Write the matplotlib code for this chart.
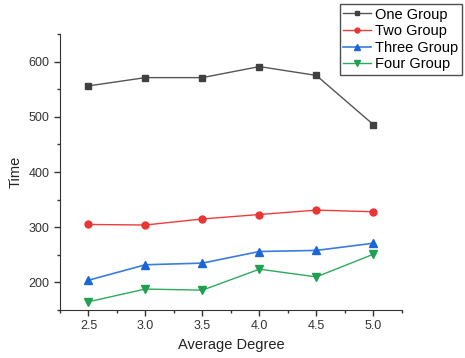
import matplotlib
matplotlib.use("Agg")
import matplotlib.pyplot as plt
from matplotlib.ticker import MultipleLocator

plt.rcParams['font.family'] = ['Liberation Sans', 'DejaVu Sans']

# Daten
degree = [2.5, 3.0, 3.5, 4.0, 4.5, 5.0]
one_group = [556, 571, 571, 591, 575, 486]
two_group = [305, 304, 315, 323, 331, 328]
three_group = [204, 232, 235, 256, 258, 271]
four_group = [165, 188, 186, 224, 210, 251]

fig = plt.figure(figsize=(4.65, 3.58), dpi=100)
ax = fig.add_axes([0.129, 0.134, 0.735, 0.771])

ax.plot(degree, one_group, color='#555555', marker='s', markersize=5,
        markerfacecolor='#404040', markeredgecolor='#404040', lw=1, label='One Group')
ax.plot(degree, two_group, color='#ee3b3b', marker='o', markersize=5,
        markerfacecolor='#e83535', markeredgecolor='#e83535', lw=1, label='Two Group')
ax.plot(degree, three_group, color='#3a7ce0', marker='^', markersize=6,
        markerfacecolor='#1a66d6', markeredgecolor='#1a66d6', lw=1.2, label='Three Group')
ax.plot(degree, four_group, color='#2eaa5c', marker='v', markersize=6,
        markerfacecolor='#22a052', markeredgecolor='#22a052', lw=1, label='Four Group')

ax.set_xlim(2.25, 5.25)
ax.set_ylim(150, 650)
ax.xaxis.set_major_locator(MultipleLocator(0.5))
ax.xaxis.set_minor_locator(MultipleLocator(0.25))
ax.yaxis.set_major_locator(MultipleLocator(100))
ax.yaxis.set_minor_locator(MultipleLocator(50))
ax.set_yticks([200, 300, 400, 500, 600])
ax.tick_params(which='major', direction='out', length=4, width=1, labelsize=9, colors='#333333')
ax.tick_params(which='minor', direction='out', length=2.5, width=1, colors='#333333')

for s in ['top', 'right']:
    ax.spines[s].set_visible(False)
for s in ['left', 'bottom']:
    ax.spines[s].set_color('#333333')

ax.set_xlabel('Average Degree', fontsize=10.5, color='#222222')
ax.set_ylabel('Time', fontsize=10.5, color='#222222')
ax.yaxis.set_label_coords(-0.11, 0.5)

# Legende oben rechts, ausserhalb der Achsen
leg = ax.legend(loc='upper right', bbox_to_anchor=(0.994, 0.989),
                bbox_transform=fig.transFigure, fontsize=10.5, frameon=True, fancybox=False,
                borderpad=0.25, labelspacing=0.18, handlelength=1.9, handletextpad=0.3,
                borderaxespad=0, markerscale=0.7)
leg.get_frame().set_edgecolor('#222222')
leg.get_frame().set_linewidth(1)

fig.savefig('out.png', dpi=100)
